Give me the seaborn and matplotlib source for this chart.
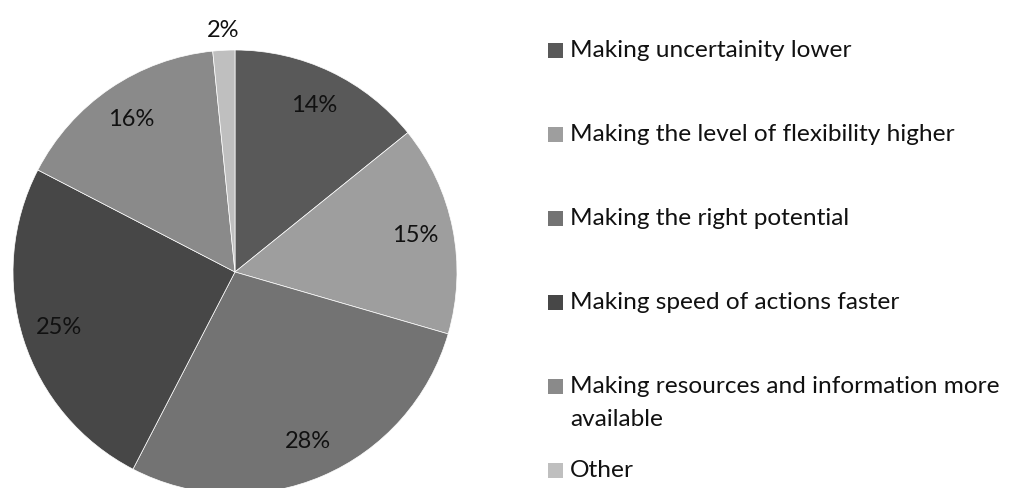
import matplotlib
matplotlib.use("Agg")
import matplotlib.pyplot as plt
import seaborn as sns
import numpy as np
from matplotlib.patches import Rectangle

categories = [
    "Making uncertainity lower",
    "Making the level of flexibility higher",
    "Making the right potential",
    "Making speed of actions faster",
    "Making resources and information more\navailable",
    "Other",
]
values = [14.2, 15.3, 28.1, 25.0, 15.8, 1.6]
colors = ["#595959", "#9e9e9e", "#737373", "#474747", "#8a8a8a", "#bfbfbf"]

sns.set_theme(style="white")
plt.rcParams["font.family"] = ["Lato", "DejaVu Sans"]

W, H = 1011, 488
fig = plt.figure(figsize=(W / 100, H / 100), dpi=100)
fig.patch.set_facecolor("white")

cx, cy, r = 235, 272, 222
ax = fig.add_axes([(cx - r) / W, (H - cy - r) / H, 2 * r / W, 2 * r / H])
wedges, texts, autotexts = ax.pie(
    values,
    colors=colors,
    startangle=90,
    counterclock=False,
    radius=1,
    autopct=lambda p: f"{p:.0f}%",
    pctdistance=0.83,
    wedgeprops=dict(edgecolor="white", linewidth=0.5),
    textprops=dict(fontsize=17, color="#111111"),
)
# small slice label outside
w = wedges[-1]
ang = np.deg2rad((w.theta1 + w.theta2) / 2)
autotexts[-1].set_position((1.09 * np.cos(ang), 1.09 * np.sin(ang)))
ax.set_xlim(-1, 1)
ax.set_ylim(-1, 1)
ax.set_aspect("auto")
ax.axis("off")

# legend
x_sq, x_txt = 548, 570
y0, dy = 50, 84
sq = 15
for i, (lab, col) in enumerate(zip(categories, colors)):
    yc = y0 + dy * i
    fig.patches.append(Rectangle((x_sq / W, (H - yc - sq / 2) / H), sq / W, sq / H,
                                 transform=fig.transFigure, facecolor=col, edgecolor="none"))
    fig.text(x_txt / W, (H - yc + 10) / H, lab, fontsize=17.6, color="#111111",
             ha="left", va="top", linespacing=1.72)

fig.savefig("out.png", dpi=100, facecolor="white")
